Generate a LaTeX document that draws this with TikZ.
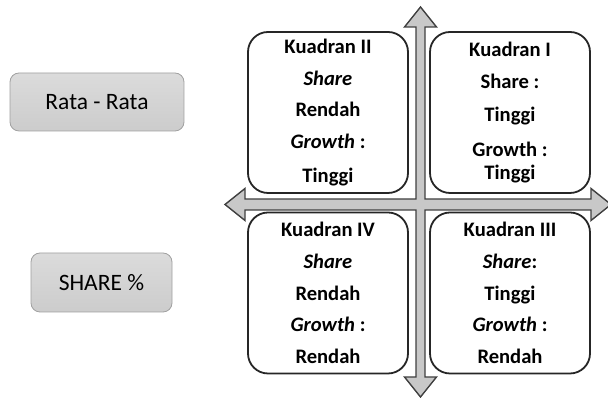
\documentclass[tikz,border=0pt]{standalone}
\usepackage{fontspec}
\setmainfont{Carlito}
\usepackage{tikz}
\usetikzlibrary{calc, positioning}
\definecolor{axisgray}{RGB}{200,200,200}
\definecolor{axisline}{RGB}{64,64,64}
\definecolor{boxline}{RGB}{160,160,160}
\definecolor{quadline}{RGB}{38,38,38}

\begin{document}
\begin{tikzpicture}[x=1pt, y=1pt]
      % Styles
      \tikzset{legend/.style={draw=boxline, line width=0.8pt, rounded corners=9pt, top color=gray!28, bottom color=gray!40, align=center, font=\fontsize{23.5}{28}\selectfont}}
      \tikzset{quadrant/.style={draw=quadline, line width=1.8pt, rounded corners=20pt, fill=white, minimum width=160pt, minimum height=161pt, align=center, font=\fontsize{20.6}{31.75}\selectfont\bfseries}}
      \useasboundingbox (0,0) rectangle (608,398);

      % --- The two grey labels on the left ---
      \node[legend, minimum width=174pt, minimum height=58pt] (rata) at (97, 296) {Rata - Rata};
      \node[legend, minimum width=141pt, minimum height=59pt] (share) at (101.5, 115.5) {SHARE \%};

      % --- The axes, one cross shape with four heads ---
      \filldraw[fill=axisgray, draw=axisline, line width=1.4pt, line join=miter]
        (420.5, 391) -- (436.5, 371) -- (425, 371) -- (425, 199) -- (591, 199) -- (591, 209.5)
        -- (611, 193.5) -- (591, 177.5) -- (591, 188) -- (425, 188) -- (425, 21) -- (436.5, 21)
        -- (420.5, 1) -- (404.5, 21) -- (416, 21) -- (416, 188) -- (245, 188) -- (245, 177.5)
        -- (225, 193.5) -- (245, 209.5) -- (245, 199) -- (416, 199) -- (416, 371) -- (404.5, 371) -- cycle;

      % --- The four quadrants ---
      \node[quadrant] (q2) at (328, 285.5) {Kuadran II\\ \textit{Share}\\ Rendah\\ \textit{Growth} :\\[2pt] Tinggi};
      \node[quadrant] (q1) at (510, 285.5) {Kuadran I\\ Share :\\[2pt] Tinggi\\[3pt] Growth :\\[-9pt] Tinggi};
      \node[quadrant] (q4) at (328, 105) {Kuadran IV\\ \textit{Share}\\ Rendah\\ \textit{Growth} :\\ Rendah};
      \node[quadrant] (q3) at (510, 105) {Kuadran III\\ \textit{Share}:\\ Tinggi\\ \textit{Growth} :\\ Rendah};

    \end{tikzpicture}
\end{document}
